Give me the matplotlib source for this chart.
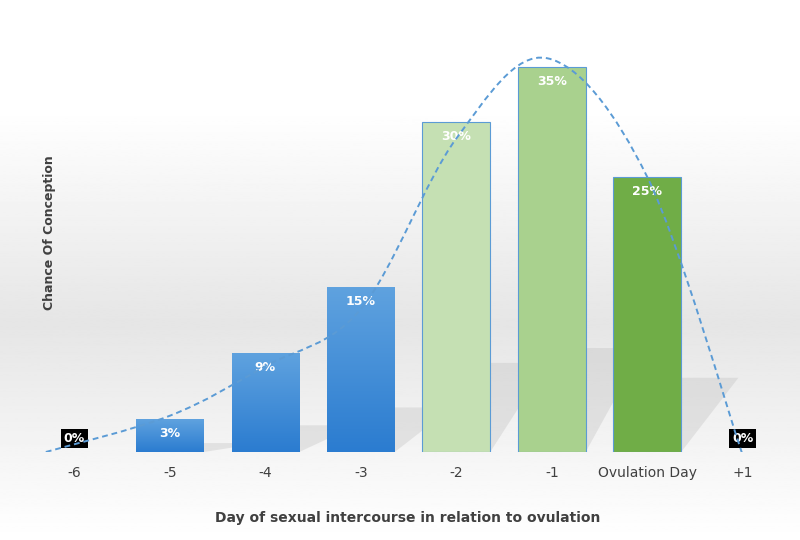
import numpy as np
import matplotlib.pyplot as plt
from matplotlib.path import Path
from matplotlib.patches import PathPatch, Polygon
from matplotlib.colors import LinearSegmentedColormap

categories = ["-6", "-5", "-4", "-3", "-2", "-1", "Ovulation Day", "+1"]
chance = [0, 3, 9, 15, 30, 35, 25, 0]
# points the dashed trend curve passes through (x index, value)
curve_x = [-0.3, 1.0, 2.0, 3.0, 4.0, 4.95, 6.0, 7.0]
curve_y = [0.0, 3.3, 7.8, 13.0, 28.5, 35.8, 25.0, -0.3]

colors = ["#4a90d9", "#4a90d9", "#4a90d9", "#4a90d9", "#c5e0b3", "#a9d18e", "#70ad47", "#4a90d9"]

fig = plt.figure(figsize=(8, 5.4), dpi=100)

# background gradient: white top, grey band, white bottom
bg = fig.add_axes([0, 0, 1, 1], zorder=-5)
g = np.array([1.0, 1.0, 0.95, 0.90, 0.95, 1.0])
yy = np.linspace(0, 1, 6)
prof = np.interp(np.linspace(0, 1, 300), yy, g)[:, None]
bg.imshow(prof, cmap="gray", vmin=0, vmax=1, aspect="auto", extent=[0, 1, 0, 1])
bg.axis("off")

ax = fig.add_axes([0, 88 / 540, 1, 440 / 540])
ax.patch.set_alpha(0)
x = np.arange(len(categories))
w = 0.71

# soft shadows behind bars
for xi, v in zip(x, chance):
    if v <= 0:
        continue
    h = v * 0.27
    ax.add_patch(Polygon([(xi - w / 2, 0), (xi + w / 2, 0), (xi + w / 2 + 0.6, h), (xi - w / 2 + 0.6, h)],
                         closed=True, facecolor="#b8b8b8", alpha=0.3, edgecolor="none", zorder=1))

blue_cmap = LinearSegmentedColormap.from_list("b", ["#2b7cd0", "#5fa2df"])
for xi, v, c in zip(x, chance, colors):
    if v <= 0:
        continue
    if xi < 4:
        grad = np.linspace(0, 1, 100)[:, None]
        ax.imshow(grad, cmap=blue_cmap, origin="lower", aspect="auto",
                  extent=[xi - w / 2, xi + w / 2, 0, v], zorder=2)
    else:
        ax.bar(xi, v, width=w, color=c, edgecolor="#5b9bd5", linewidth=0.8, zorder=2)

for xi, v in zip(x, chance):
    if v > 0:
        ax.text(xi, v - 1.3, f"{v}%", ha="center", va="center", color="white",
                fontsize=9, fontweight="bold", zorder=4)
    else:
        ax.text(xi, 1.2, f"{v}%", ha="center", va="center", color="white", fontsize=9,
                fontweight="bold", zorder=4,
                bbox=dict(boxstyle="square,pad=0.25", facecolor="black", edgecolor="none"))

# smooth dashed trend curve (Catmull-Rom -> Bezier)
pts = np.column_stack([curve_x, curve_y])
verts = [tuple(pts[0])]
codes = [Path.MOVETO]
for i in range(len(pts) - 1):
    p0 = pts[max(i - 1, 0)]
    p1 = pts[i]
    p2 = pts[i + 1]
    p3 = pts[min(i + 2, len(pts) - 1)]
    c1 = p1 + (p2 - p0) / 6
    c2 = p2 - (p3 - p1) / 6
    verts += [tuple(c1), tuple(c2), tuple(p2)]
    codes += [Path.CURVE4] * 3
ax.add_patch(PathPatch(Path(verts, codes), facecolor="none", edgecolor="#5b9bd5",
                       linestyle=(0, (3, 2)), linewidth=1.4, zorder=5))

ax.set_xlim(-0.78, 7.6)
ax.set_ylim(0, 40)
ax.set_xticks(x)
ax.set_xticklabels(categories, fontsize=10, color="#404040")
ax.tick_params(axis="x", length=0, pad=10)
ax.set_yticks([])
for s in ax.spines.values():
    s.set_visible(False)

fig.text(0.062, 0.57, "Chance Of Conception", rotation=90, ha="center", va="center",
         fontsize=9, fontweight="bold", color="#404040")
fig.text(0.51, 0.04, "Day of sexual intercourse in relation to ovulation", ha="center",
         va="center", fontsize=10, fontweight="bold", color="#404040")

fig.savefig("out.png", dpi=100)
